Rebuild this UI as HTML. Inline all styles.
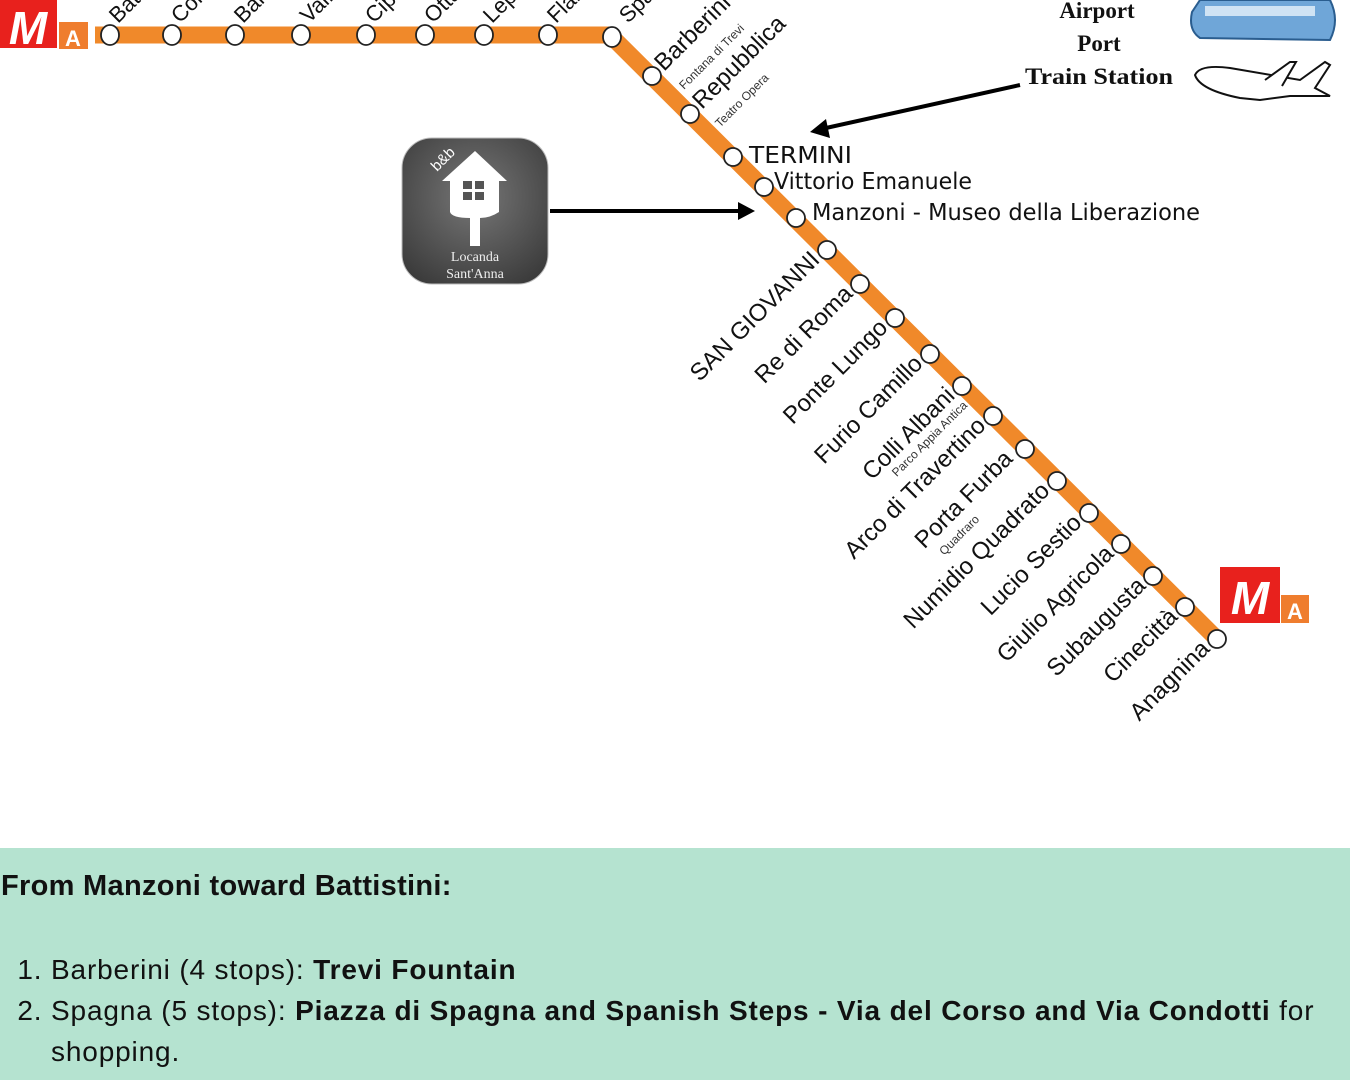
<!DOCTYPE html>
<html><head><meta charset="utf-8"><style>
body{margin:0;width:1350px;height:1080px;overflow:hidden;background:#fff;font-family:"Liberation Sans",sans-serif;position:relative}
.panel{position:absolute;left:0;top:848px;width:1350px;height:232px;background:#b5e3d0;color:#111}
.panel h1{margin:0;position:absolute;left:1px;top:22px;font-size:29px;font-weight:bold;letter-spacing:0.3px}
.panel ol{position:absolute;left:10px;top:101px;margin:0;padding-left:41px;font-size:28px;line-height:41px;width:1290px;letter-spacing:0.85px}
.panel li{padding-left:0}
</style></head><body>
<svg width="1350" height="848" style="position:absolute;left:0;top:0" font-family="Liberation Sans, sans-serif">
<defs><radialGradient id="g" cx="50%" cy="40%" r="70%"><stop offset="0" stop-color="#777"/><stop offset="1" stop-color="#3a3a3a"/></radialGradient></defs>
<polyline points="95,35 610,35 1218,640" fill="none" stroke="#f0892a" stroke-width="17" stroke-linejoin="round"/>
<g fill="#fff" stroke="#222" stroke-width="1.8">
<ellipse cx="110" cy="35" rx="9" ry="10"/><ellipse cx="172" cy="35" rx="9" ry="10"/><ellipse cx="235" cy="35" rx="9" ry="10"/><ellipse cx="301" cy="35" rx="9" ry="10"/><ellipse cx="366" cy="35" rx="9" ry="10"/><ellipse cx="425" cy="35" rx="9" ry="10"/><ellipse cx="484" cy="35" rx="9" ry="10"/><ellipse cx="548" cy="35" rx="9" ry="10"/><ellipse cx="612" cy="37" rx="9" ry="10"/>
<circle cx="652" cy="76" r="9"/><circle cx="690" cy="114" r="9"/><circle cx="733" cy="157" r="9"/><circle cx="764" cy="187" r="9"/><circle cx="796" cy="218" r="9"/><circle cx="827" cy="250" r="9"/><circle cx="860" cy="284" r="9"/><circle cx="895" cy="318" r="9"/><circle cx="930" cy="354" r="9"/><circle cx="962" cy="386" r="9"/><circle cx="993" cy="416" r="9"/><circle cx="1025" cy="449" r="9"/><circle cx="1057" cy="481" r="9"/><circle cx="1089" cy="513" r="9"/><circle cx="1121" cy="544" r="9"/><circle cx="1153" cy="576" r="9"/><circle cx="1185" cy="607" r="9"/><circle cx="1217" cy="639" r="9"/>
</g>
<g font-size="22" fill="#111">
<text transform="translate(118,24) rotate(-45)">Battistini</text>
<text transform="translate(180,24) rotate(-45)">Cornelia</text>
<text transform="translate(243,24) rotate(-45)">Baldo degli Ubaldi</text>
<text transform="translate(309,24) rotate(-45)">Valle Aurelia</text>
<text transform="translate(374,24) rotate(-45)">Cipro</text>
<text transform="translate(433,24) rotate(-45)">Ottaviano</text>
<text transform="translate(492,24) rotate(-45)">Lepanto</text>
<text transform="translate(556,24) rotate(-45)">Flaminio</text>
<text transform="translate(628,24) rotate(-45)">Spagna</text>
<text transform="translate(664,72) rotate(-45)" font-size="24">Barberini</text>
<text transform="translate(702,110) rotate(-45)" font-size="24">Repubblica</text>
</g>
<g font-size="12" fill="#333">
<text transform="translate(684,90) rotate(-45)">Fontana di Trevi</text>
<text transform="translate(720,128) rotate(-45)">Teatro Opera</text>
</g>
<g font-size="23" fill="#111" font-family="DejaVu Sans, sans-serif">
<text x="749" y="163" textLength="103" lengthAdjust="spacingAndGlyphs">TERMINI</text>
<text x="774" y="189" textLength="198" lengthAdjust="spacingAndGlyphs">Vittorio Emanuele</text>
<text x="812" y="220" textLength="388" lengthAdjust="spacingAndGlyphs">Manzoni - Museo della Liberazione</text>
</g>
<g font-size="24" fill="#111" text-anchor="end">
<text transform="translate(821,261) rotate(-45)">SAN GIOVANNI</text>
<text transform="translate(854,295) rotate(-45)">Re di Roma</text>
<text transform="translate(889,329) rotate(-45)">Ponte Lungo</text>
<text transform="translate(924,365) rotate(-45)">Furio Camillo</text>
<text transform="translate(956,397) rotate(-45)">Colli Albani</text>
<text transform="translate(987,427) rotate(-45)">Arco di Travertino</text>
<text transform="translate(1014,460) rotate(-45)">Porta Furba</text>
<text transform="translate(1051,492) rotate(-45)">Numidio Quadrato</text>
<text transform="translate(1083,524) rotate(-45)">Lucio Sestio</text>
<text transform="translate(1115,555) rotate(-45)">Giulio Agricola</text>
<text transform="translate(1147,587) rotate(-45)">Subaugusta</text>
<text transform="translate(1179,618) rotate(-45)">Cinecittà</text>
<text transform="translate(1211,650) rotate(-45)">Anagnina</text>
</g>
<g font-size="12" fill="#333" text-anchor="end">
<text transform="translate(968,406) rotate(-45)">Parco Appia Antica</text>
<text transform="translate(980,520) rotate(-45)">Quadraro</text>
</g>
<rect x="0" y="0" width="57" height="48" fill="#e8211d"/>
<text x="28" y="44" font-size="46" font-weight="bold" fill="#fff" text-anchor="middle" font-style="italic">M</text>
<rect x="59" y="22" width="29" height="27" fill="#ef7d2e"/>
<text x="73" y="46" font-size="22" font-weight="bold" fill="#fff" text-anchor="middle">A</text>
<rect x="1220" y="567" width="60" height="56" fill="#e8211d"/>
<text x="1250" y="614" font-size="46" font-weight="bold" fill="#fff" text-anchor="middle" font-style="italic">M</text>
<rect x="1281" y="595" width="28" height="28" fill="#ef7d2e"/>
<text x="1295" y="619" font-size="22" font-weight="bold" fill="#fff" text-anchor="middle">A</text>
<rect x="402" y="138" width="146" height="146" rx="30" fill="url(#g)" stroke="#bbb" stroke-width="1"/>
<path d="M475,151 L507,181 L499,181 L499,212 Q490,218 480,218 L480,246 L470,246 L470,218 Q452,218 450,212 L450,181 L442,181 Z" fill="#fff"/>
<rect x="463" y="181" width="9" height="8" fill="#555"/><rect x="475" y="181" width="9" height="8" fill="#555"/><rect x="463" y="192" width="9" height="8" fill="#555"/><rect x="475" y="192" width="9" height="8" fill="#555"/>
<text transform="translate(437,172) rotate(-45)" font-size="15" fill="#fff">b&amp;b</text>
<text x="475" y="261" font-size="14" fill="#eee" text-anchor="middle" font-family="Liberation Serif, serif">Locanda</text>
<text x="475" y="278" font-size="14" fill="#eee" text-anchor="middle" font-family="Liberation Serif, serif">Sant'Anna</text>
<line x1="550" y1="211" x2="740" y2="211" stroke="#000" stroke-width="4"/>
<polygon points="755,211 738,202 738,220" fill="#000"/>
<line x1="1020" y1="85" x2="826" y2="128" stroke="#000" stroke-width="4"/>
<polygon points="810,132 826,119 830,138" fill="#000"/>
<g font-family="Liberation Serif, serif" font-weight="bold" font-size="23" fill="#111" text-anchor="middle">
<text x="1097" y="18">Airport</text>
<text x="1099" y="51">Port</text>
<text x="1099" y="84" textLength="148" lengthAdjust="spacingAndGlyphs">Train Station</text>
</g>
<path d="M1192,12 L1200,0 L1330,0 Q1340,20 1330,40 L1200,38 Q1188,30 1192,12Z" fill="#6fa6d8" stroke="#2a5d8f" stroke-width="2"/>
<rect x="1205" y="6" width="110" height="10" fill="#cfe3f4"/>
<path d="M1195,75 Q1200,64 1230,68 L1300,80 L1325,62 L1330,65 L1315,88 L1330,96 L1290,96 L1260,100 L1240,98 Q1200,90 1195,75Z" fill="#fff" stroke="#111" stroke-width="2"/>
<path d="M1265,80 L1290,62 L1296,62 L1282,86" fill="#fff" stroke="#111" stroke-width="2"/>
</svg>
<div class="panel">
<h1>From Manzoni toward Battistini:</h1>
<ol>
<li>Barberini (4 stops): <b>Trevi Fountain</b></li>
<li>Spagna (5 stops): <b>Piazza di Spagna and Spanish Steps - Via del Corso and Via Condotti</b> for shopping.</li>
</ol>
</div>
</body></html>
